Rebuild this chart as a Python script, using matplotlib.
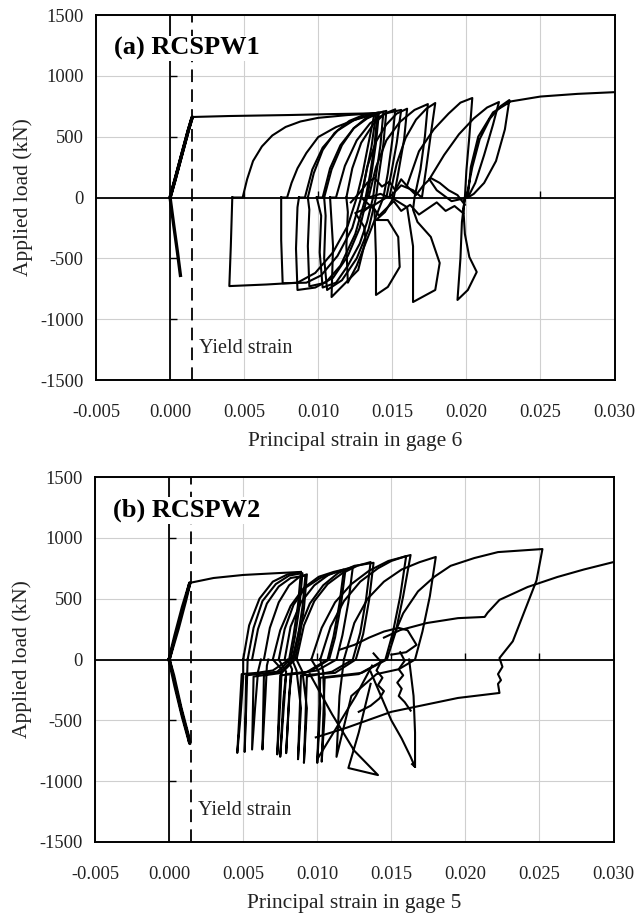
import numpy as np
import matplotlib
matplotlib.use('Agg')
import matplotlib.pyplot as plt

# hysteresis traces, strain in units of 1e-3, load in kN
# ---- RCSPW1, gage 6 ----
a_el_x = [0.0, 0.45, 0.9, 1.25, 1.5, 1.2, 0.8, 0.35, 0.0, 0.25, 0.5, 0.7]
a_el_y = [0, 200, 400, 560, 662, 540, 360, 150, 0, -230, -450, -640]
a_env_x = [1.5, 4.0, 8.0, 11.0, 13.8]
a_env_y = [662, 670, 678, 686, 692]

a_c1_x = [4.2, 4.9, 5.2, 5.6, 6.2, 6.9, 7.8, 8.8, 10.0, 12.0, 13.8, 13.4, 13.0, 12.6, 12.0, 11.0, 9.8, 8.6, 6.5, 4.0, 4.1, 4.2]
a_c1_y = [0, 0, 150, 300, 420, 510, 580, 625, 655, 678, 692, 450, 200, 0, -230, -450, -620, -700, -715, -728, -400, 0]
a_c2_x = [7.5, 7.9, 8.2, 8.6, 9.2, 10.0, 11.2, 12.5, 13.9, 13.6, 13.2, 12.9, 12.3, 11.3, 10.2, 9.2, 7.6, 7.5, 7.5]
a_c2_y = [0, 0, 120, 240, 366, 497, 579, 640, 688, 420, 180, 0, -250, -480, -640, -700, -705, -350, 0]
a_c3_x = [8.7, 9.1, 9.6, 10.3, 11.3, 12.4, 13.4, 14.1, 13.9, 13.6, 13.3, 12.8, 12.0, 11.0, 9.8, 8.6, 8.5, 8.6, 8.7]
a_c3_y = [0, 0, 230, 410, 550, 635, 680, 700, 450, 200, 0, -250, -480, -660, -740, -760, -420, -80, 0]
a_c4_x = [9.9, 10.3, 10.8, 11.5, 12.4, 13.3, 14.0, 14.4, 14.2, 13.9, 13.7, 13.3, 12.8, 12.0, 11.2, 10.3, 10.1, 10.2, 9.9]
a_c4_y = [0, 0, 240, 430, 570, 650, 690, 705, 430, 180, 0, -200, -380, -560, -700, -740, -450, -150, 0]
a_c5_x = [10.8, 11.2, 11.8, 12.6, 13.5, 14.5, 15.6, 15.3, 14.9, 14.6, 13.8, 12.5, 13.1, 13.2, 12.7, 10.9, 11.0, 10.8]
a_c5_y = [0, 0, 260, 470, 610, 690, 720, 450, 180, 0, -60, -127, -240, -349, -596, -818, -400, 0]
a_c6_x = [12.9, 13.3, 13.9, 14.6, 15.3, 16.0, 15.8, 15.4, 15.1, 14.5, 13.9, 14.7, 15.4, 15.5, 14.7, 13.9, 13.9, 13.8, 12.9]
a_c6_y = [0, 250, 460, 600, 690, 730, 480, 200, 0, -120, -185, -185, -324, -571, -735, -801, -500, -100, 0]
a_c7_x = [13.4, 13.9, 14.6, 15.5, 16.5, 17.4, 17.2, 16.9, 16.5, 16.4, 16.7, 17.6, 18.2, 17.9, 16.4, 16.4, 16.0, 15.2, 14.2, 13.4]
a_c7_y = [0, 250, 470, 620, 720, 768, 500, 230, 0, -100, -201, -324, -538, -760, -859, -400, -80, -20, 30, 0]
a_c8_x = [14.8, 15.3, 15.9, 16.6, 17.3, 17.9, 17.6, 17.3, 17.0, 16.4, 15.6, 14.8]
a_c8_y = [0, 280, 490, 640, 730, 777, 520, 250, 0, 60, 100, 0]
a_c9_x = [16.0, 16.8, 17.8, 18.8, 19.6, 20.4, 20.2, 20.0, 19.9, 19.8, 19.9, 20.2, 20.7, 20.1, 19.4, 19.6, 19.7, 19.9]
a_c9_y = [100, 380, 560, 690, 780, 818, 500, 220, 0, -100, -300, -489, -612, -760, -842, -500, -200, 0]
a_c10_x = [17.5, 18.5, 19.5, 20.5, 21.4, 22.2, 21.8, 21.2, 20.6, 20.1, 19.0, 18.0, 17.5]
a_c10_y = [150, 350, 520, 650, 740, 785, 600, 350, 120, 0, -30, 60, 150]
a_c11_x = [20.0, 20.4, 20.9, 21.6, 22.3, 22.9, 22.6, 22.0, 21.2, 20.5, 20.1, 20.3, 20.8, 21.8, 23.0, 25.0, 27.5, 30.0]
a_c11_y = [0, 250, 480, 650, 750, 801, 560, 300, 120, 30, 0, 250, 500, 700, 790, 830, 852, 866]
a_c12_x = [9.3, 9.7, 10.3, 11.1, 12.1, 13.1, 14.0, 13.8, 13.5, 13.2, 12.5, 11.5, 10.5, 9.4, 9.3, 9.4, 9.3]
a_c12_y = [0, 200, 390, 530, 630, 680, 697, 430, 190, 0, -300, -560, -700, -730, -400, -100, 0]
a_c13_x = [10.4, 10.9, 11.6, 12.4, 13.2, 14.0, 14.6, 14.4, 14.1, 13.9, 13.4, 12.6, 11.6, 10.6, 10.4, 10.5, 10.4]
a_c13_y = [0, 230, 430, 570, 650, 695, 712, 440, 190, 0, -260, -500, -680, -760, -500, -150, 0]
a_c14_x = [11.9, 12.3, 12.9, 13.7, 14.5, 15.2, 15.0, 14.7, 14.4, 13.6, 12.6, 12.0, 11.9, 12.0, 11.9]
a_c14_y = [0, 240, 450, 600, 690, 725, 470, 200, 0, -250, -560, -700, -400, -120, 0]
a_sq1_x = [12.2, 12.8, 13.3, 13.8, 14.3, 14.8, 15.2, 15.6, 16.1, 16.6, 17.1, 17.6, 18.2, 18.8, 19.4, 19.9]
a_sq1_y = [-40, 40, 120, 160, 90, 130, 60, 150, 80, 20, 100, 160, 120, 60, 20, -60]
a_sq2_x = [13.0, 13.6, 14.1, 14.6, 15.1, 15.6, 16.2, 16.8, 17.4, 18.0, 18.6, 19.2, 19.8]
a_sq2_y = [-120, -60, -150, -90, -30, -110, -60, -140, -90, -40, -110, -70, -130]

# ---- RCSPW2, gage 5 ----
b_el_x = [0.0, 0.4, 0.9, 1.4, 1.1, 0.6, 0.0, 0.4, 0.9, 1.4, 1.3, 0.8, 0.3, 0.0]
b_el_y = [0, 200, 430, 630, 480, 250, 0, -220, -470, -690, -630, -400, -130, 0]
b_env_x = [1.4, 2.0, 3.0, 5.0, 7.0, 8.9]
b_env_y = [630, 645, 670, 695, 708, 720]

b_c1_x = [5.0, 5.4, 6.1, 7.0, 8.0, 8.9, 8.7, 8.4, 8.1, 7.0, 5.9, 4.9, 4.6, 4.8, 5.0, 5.0]
b_c1_y = [0, 280, 500, 640, 700, 720, 450, 200, 0, -90, -110, -120, -768, -500, -150, 0]
b_c2_x = [5.6, 6.0, 6.6, 7.4, 8.2, 9.2, 9.0, 8.7, 8.4, 7.5, 6.3, 5.7, 5.6, 5.8, 6.0, 6.2]
b_c2_y = [0, 250, 460, 600, 670, 690, 430, 190, 0, -100, -130, -140, -740, -400, -100, 0]
b_c3_x = [6.4, 6.8, 7.4, 8.1, 8.8, 9.3, 9.1, 8.8, 8.5, 7.6, 6.4, 6.3, 6.5, 6.6, 6.7]
b_c3_y = [0, 260, 470, 610, 680, 700, 420, 180, 0, -110, -130, -740, -300, -50, 0]
b_c4_x = [7.4, 7.8, 8.4, 9.2, 10.2, 11.2, 11.9, 11.6, 11.2, 10.8, 9.5, 7.9, 7.5, 7.7, 7.9, 7.4]
b_c4_y = [0, 250, 450, 590, 670, 715, 736, 450, 180, 0, -100, -120, -800, -350, -100, 0]
b_c5_x = [7.8, 8.2, 8.9, 9.8, 10.8, 11.8, 12.4, 12.1, 11.7, 11.3, 10.0, 8.2, 7.9, 8.1, 8.3, 8.0]
b_c5_y = [0, 270, 470, 610, 700, 740, 760, 470, 200, 0, -90, -120, -770, -300, -80, 0]
b_c6_x = [8.6, 9.1, 9.8, 10.7, 11.7, 12.7, 13.6, 13.3, 12.9, 12.4, 11.0, 9.3, 9.1, 9.3, 9.0, 8.6]
b_c6_y = [0, 280, 480, 620, 710, 770, 801, 500, 220, 0, -100, -140, -850, -400, -100, 0]
b_c7_x = [9.6, 10.3, 11.2, 12.3, 13.5, 14.8, 16.3, 15.8, 15.3, 14.7, 13.0, 10.2, 10.0, 10.2, 10.1, 9.6]
b_c7_y = [0, 260, 470, 620, 730, 810, 859, 520, 230, 0, -110, -150, -850, -400, -100, 0]
b_c8_x = [11.8, 12.5, 13.4, 14.5, 15.7, 16.9, 18.0, 17.6, 17.1, 16.6, 15.5, 14.0, 12.3, 11.3, 11.5, 11.8]
b_c8_y = [0, 300, 500, 640, 740, 800, 843, 520, 230, 0, -80, -120, -300, -800, -300, 0]
b_c9_x = [15.0, 15.8, 16.8, 17.9, 19.0, 20.6, 22.2, 25.2, 24.8, 24.0, 23.2, 22.3, 22.5, 22.2, 22.4, 22.2, 22.3, 19.5, 15.0, 12.0, 9.9]
b_c9_y = [150, 380, 560, 680, 770, 834, 883, 908, 650, 400, 150, 12, -60, -120, -170, -200, -275, -316, -430, -560, -640]
b_c10_x = [14.5, 15.6, 17.4, 19.5, 21.3, 21.5, 22.3, 24.2, 26.2, 28.0, 30.0]
b_c10_y = [180, 242, 300, 340, 350, 385, 490, 596, 678, 740, 801]
b_c11_x = [5.3, 5.7, 6.3, 7.2, 8.1, 9.0, 8.8, 8.5, 8.2, 7.3, 6.0, 5.2, 5.1, 5.2, 5.3]
b_c11_y = [0, 260, 480, 620, 690, 710, 440, 190, 0, -100, -120, -130, -760, -400, 0]
b_c12_x = [7.0, 7.5, 8.2, 9.1, 10.1, 11.1, 11.8, 11.5, 11.1, 10.7, 9.2, 7.5, 7.3, 7.5, 7.6, 7.0]
b_c12_y = [0, 240, 440, 590, 680, 720, 740, 460, 190, 0, -110, -130, -780, -350, -80, 0]
b_c13_x = [8.3, 8.8, 9.5, 10.4, 11.4, 12.5, 13.8, 13.5, 13.1, 12.6, 11.2, 8.9, 8.7, 8.9, 8.6, 8.3]
b_c13_y = [0, 250, 460, 610, 710, 770, 795, 490, 210, 0, -110, -130, -820, -400, -90, 0]
b_c14_x = [10.2, 10.9, 11.8, 12.9, 14.1, 15.0, 16.0, 15.6, 15.1, 14.6, 12.8, 10.5, 10.3, 10.5, 10.4, 10.2]
b_c14_y = [0, 270, 480, 640, 750, 810, 850, 520, 220, 0, -120, -150, -840, -450, -100, 0]
b_x1_x = [10.1, 11.3, 12.6, 13.7]
b_x1_y = [-800, -560, -300, -50]
b_x2_x = [9.5, 11.0, 12.5, 14.1, 12.1, 12.8, 13.6]
b_x2_y = [-120, -450, -750, -950, -892, -600, -200]
b_x3_x = [13.6, 14.3, 15.0, 15.7, 16.3, 16.6, 16.4]
b_x3_y = [-100, -300, -500, -650, -800, -883, -860]
b_x4_x = [16.2, 16.5, 16.6, 16.6]
b_x4_y = [0, -300, -600, -883]
b_sq1_x = [13.8, 14.3, 14.0, 14.4, 14.1, 14.5, 14.2, 13.6, 12.8]
b_sq1_y = [50, -20, -90, -150, -210, -260, -320, -380, -430]
b_sq2_x = [15.6, 15.9, 15.5, 15.8, 15.4, 15.7, 15.5, 15.9, 16.3]
b_sq2_y = [60, -10, -80, -130, -190, -240, -300, -350, -420]
b_sq3_x = [11.5, 12.5, 13.5, 14.5, 15.5, 16.1, 16.7, 16.0, 15.0]
b_sq3_y = [80, 120, 180, 230, 260, 240, 120, 60, 40]

x_ticks = [-0.005, 0.000, 0.005, 0.010, 0.015, 0.020, 0.025, 0.030]
y_ticks = [-1500, -1000, -500, 0, 500, 1000, 1500]
yield_strain = 0.0015

panels = [
    {'title': '(a) RCSPW1', 'xlabel': 'Principal strain in gage 6',
     'el': (a_el_x, a_el_y), 'env': (a_env_x, a_env_y),
     'curves': [(a_c1_x, a_c1_y), (a_c2_x, a_c2_y), (a_c3_x, a_c3_y), (a_c4_x, a_c4_y),
                (a_c5_x, a_c5_y), (a_c6_x, a_c6_y), (a_c7_x, a_c7_y), (a_c8_x, a_c8_y),
                (a_c9_x, a_c9_y), (a_c10_x, a_c10_y), (a_c11_x, a_c11_y),
                (a_c12_x, a_c12_y), (a_c13_x, a_c13_y), (a_c14_x, a_c14_y),
                (a_sq1_x, a_sq1_y), (a_sq2_x, a_sq2_y)],
     'rect': [0.1507, 0.5856, 0.8140, 0.398]},
    {'title': '(b) RCSPW2', 'xlabel': 'Principal strain in gage 5',
     'el': (b_el_x, b_el_y), 'env': (b_env_x, b_env_y),
     'curves': [(b_c1_x, b_c1_y), (b_c2_x, b_c2_y), (b_c3_x, b_c3_y), (b_c4_x, b_c4_y),
                (b_c5_x, b_c5_y), (b_c6_x, b_c6_y), (b_c7_x, b_c7_y), (b_c8_x, b_c8_y),
                (b_c9_x, b_c9_y), (b_c10_x, b_c10_y), (b_c11_x, b_c11_y), (b_c12_x, b_c12_y),
                (b_c13_x, b_c13_y), (b_c14_x, b_c14_y),
                (b_x1_x, b_x1_y), (b_x2_x, b_x2_y), (b_x3_x, b_x3_y), (b_x4_x, b_x4_y),
                (b_sq1_x, b_sq1_y), (b_sq2_x, b_sq2_y), (b_sq3_x, b_sq3_y)],
     'rect': [0.1492, 0.0818, 0.8140, 0.398]},
]

plt.rcParams['font.family'] = ['Liberation Serif', 'DejaVu Serif']
plt.rcParams['axes.unicode_minus'] = False
fig = plt.figure(figsize=(6.37, 9.17), dpi=100)

for p in panels:
    ax = fig.add_axes(p['rect'])
    ax.set_xlim(-0.005, 0.030)
    ax.set_ylim(-1500, 1500)
    ax.set_xticks(x_ticks)
    ax.set_yticks(y_ticks)
    ax.set_xticklabels(['%.3f' % v for v in x_ticks])
    ax.grid(True, color='#cfcfcf', lw=0.8)
    ax.set_axisbelow(True)
    ax.tick_params(axis='both', length=0, labelsize=13.3, colors='#222222')
    ax.tick_params(axis='x', pad=17)
    ax.tick_params(axis='y', pad=9)
    for s in ax.spines.values():
        s.set_linewidth(1.4)
    ax.set_xlabel(p['xlabel'], fontsize=15.5, labelpad=8, color='#222222')
    ax.set_ylabel('Applied load (kN)', fontsize=15.5, labelpad=5, color='#222222')

    # zero axes and yield line
    ax.axhline(0, color='k', lw=1.3, zorder=2)
    ax.axvline(0, color='k', lw=1.3, zorder=2)
    ax.axvline(yield_strain, color='k', lw=1.3, ls=(0, (7, 4)), zorder=2)
    ax.plot([0] * 4, [-1000, -500, 500, 1000], ls='none', marker=1, ms=5, color='k', mew=1)
    ax.plot(x_ticks[2:], [0] * 6, ls='none', marker=2, ms=5, color='k', mew=1)

    ex, ey = p['el']
    ax.plot(np.array(ex) * 1e-3, ey, color='k', lw=2.4, zorder=3)
    nx, ny = p['env']
    ax.plot(np.array(nx) * 1e-3, ny, color='k', lw=1.5, zorder=3)
    for cx, cy in p['curves']:
        ax.plot(np.array(cx) * 1e-3, cy, color='k', lw=1.5, zorder=3,
                solid_joinstyle='round')

    ax.text(-0.0038, 1225, p['title'], fontsize=19, fontweight='bold', va='center',
            zorder=5, bbox=dict(facecolor='white', edgecolor='none', pad=1))
    ax.text(0.00195, -1245, 'Yield strain', fontsize=14.5, va='center', color='#222222',
            zorder=5)

fig.savefig('out.png', dpi=100)
